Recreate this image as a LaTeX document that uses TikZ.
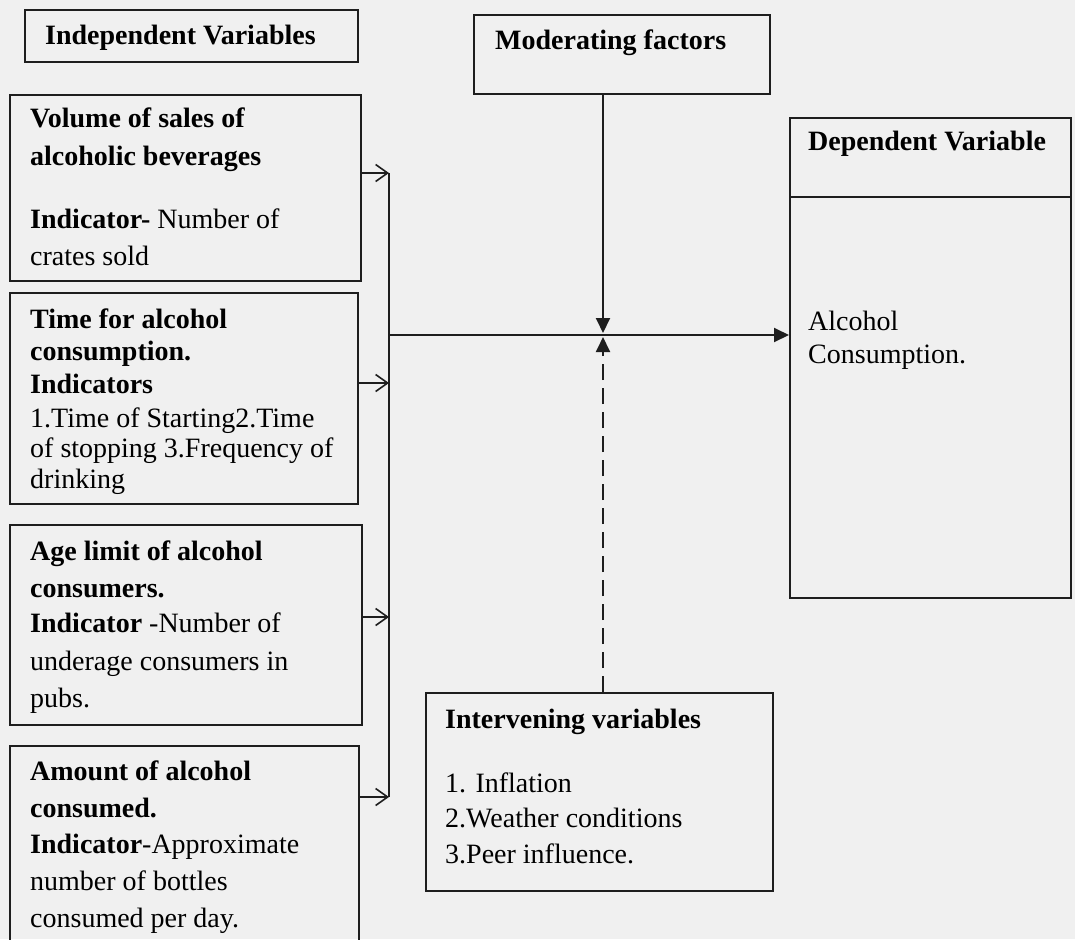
\documentclass[tikz,border=0pt]{standalone}
\usepackage{fontspec}
\setmainfont{Liberation Serif}
\usetikzlibrary{arrows.meta}
\definecolor{bg}{RGB}{240,240,240}
\definecolor{ink}{RGB}{30,30,30}
\begin{document}
\begin{tikzpicture}[x=1pt,y=-1pt,
  box/.style={draw=ink,line width=1.9pt,rectangle,inner sep=0pt,anchor=north west},
  txt/.style={anchor=base west,inner sep=0pt,text=black,font=\fontsize{28}{32}\selectfont},
  btxt/.style={anchor=base west,inner sep=0pt,text=black,font=\fontsize{28}{32}\selectfont\bfseries},
  conn/.style={line width=1.9pt,draw=ink},
  openarrow/.style={conn,-{Straight Barb[length=12pt,width=17pt,line width=1.6pt]}},
  solidarrow/.style={conn,-{Triangle[length=15pt,width=14pt]}},
]
\fill[bg] (0,0) rectangle (1075,939);
\useasboundingbox (0,0) rectangle (1075,939);
\clip (0,0) rectangle (1075,939);

% boxes
\node[box,minimum width=333pt,minimum height=52pt] (indep) at (24,9) {};
\node[box,minimum width=351pt,minimum height=186pt] (vol) at (9,94) {};
\node[box,minimum width=348pt,minimum height=211pt] (time) at (9,292) {};
\node[box,minimum width=352pt,minimum height=200pt] (age) at (9,524) {};
\node[box,minimum width=349pt,minimum height=230pt] (amount) at (9,745) {};
\node[box,minimum width=296pt,minimum height=79pt] (moder) at (473,14) {};
\node[box,minimum width=281pt,minimum height=480pt] (dep) at (789,117) {};
\node[box,minimum width=347pt,minimum height=198pt] (interv) at (425,692) {};
\coordinate (divL) at (789,197);
\draw[conn] (divL) -- (dep.east |- divL);

% texts
\node[btxt] (t1) at (45,45) {Independent Variables};

\node[btxt] (v1) at (30,128) {Volume of sales of};
\node[btxt] (v2) at (30,165) {alcoholic beverages};
\node[txt] (v3) at (30,228) {\textbf{Indicator-} Number of};
\node[txt] (v4) at (30,265) {crates sold};

\node[btxt] (ti1) at (30,328) {Time for alcohol};
\node[btxt] (ti2) at (30,360) {consumption.};
\node[btxt] (ti3) at (30,393) {Indicators};
\node[txt] (ti4) at (30,427) {1.Time of Starting2.Time};
\node[txt] (ti5) at (30,457) {of stopping 3.Frequency of};
\node[txt] (ti6) at (30,488) {drinking};

\node[btxt] (a1) at (30,560) {Age limit of alcohol};
\node[btxt] (a2) at (30,597) {consumers.};
\node[txt] (a3) at (30,632) {\textbf{Indicator} -Number of};
\node[txt] (a4) at (30,670) {underage consumers in};
\node[txt] (a5) at (30,707) {pubs.};

\node[btxt] (m1) at (30,780) {Amount of alcohol};
\node[btxt] (m2) at (30,817) {consumed.};
\node[txt] (m3) at (30,853) {\textbf{Indicator}-Approximate};
\node[txt] (m4) at (30,890) {number of bottles};
\node[txt] (m5) at (30,927) {consumed per day.};

\node[btxt] (mf) at (495,50) {Moderating factors};

\node[btxt] (d1) at (808,150) {Dependent Variable};
\node[txt] (d2) at (808,330) {Alcohol};
\node[txt] (d3) at (808,363) {Consumption.};

\node[btxt] (i1) at (445,728) {Intervening variables};
\node[txt] (i2) at (445,792) {1. Inflation};
\node[txt] (i3) at (445,827) {2.Weather conditions};
\node[txt] (i4) at (445,863) {3.Peer influence.};

% connectors
\coordinate (b1) at (389,173);
\coordinate (b2) at (389,383);
\coordinate (b3) at (389,617);
\coordinate (b4) at (389,797);
\coordinate (j) at (389,335);
\coordinate (mdown) at (603,333);
\coordinate (mup) at (603,337);
\draw[conn] (b1) -- (b4);
\draw[openarrow] (vol.east |- b1) -- (b1);
\draw[openarrow] (time.east |- b2) -- (b2);
\draw[openarrow] (age.east |- b3) -- (b3);
\draw[openarrow] (amount.east |- b4) -- (b4);
\draw[solidarrow] (j) -- (dep.west |- j);
\draw[solidarrow] (mdown |- moder.south) -- (mdown);
\draw[solidarrow,dash pattern=on 16pt off 8pt] (mup |- interv.north) -- (mup);
\end{tikzpicture}
\end{document}
